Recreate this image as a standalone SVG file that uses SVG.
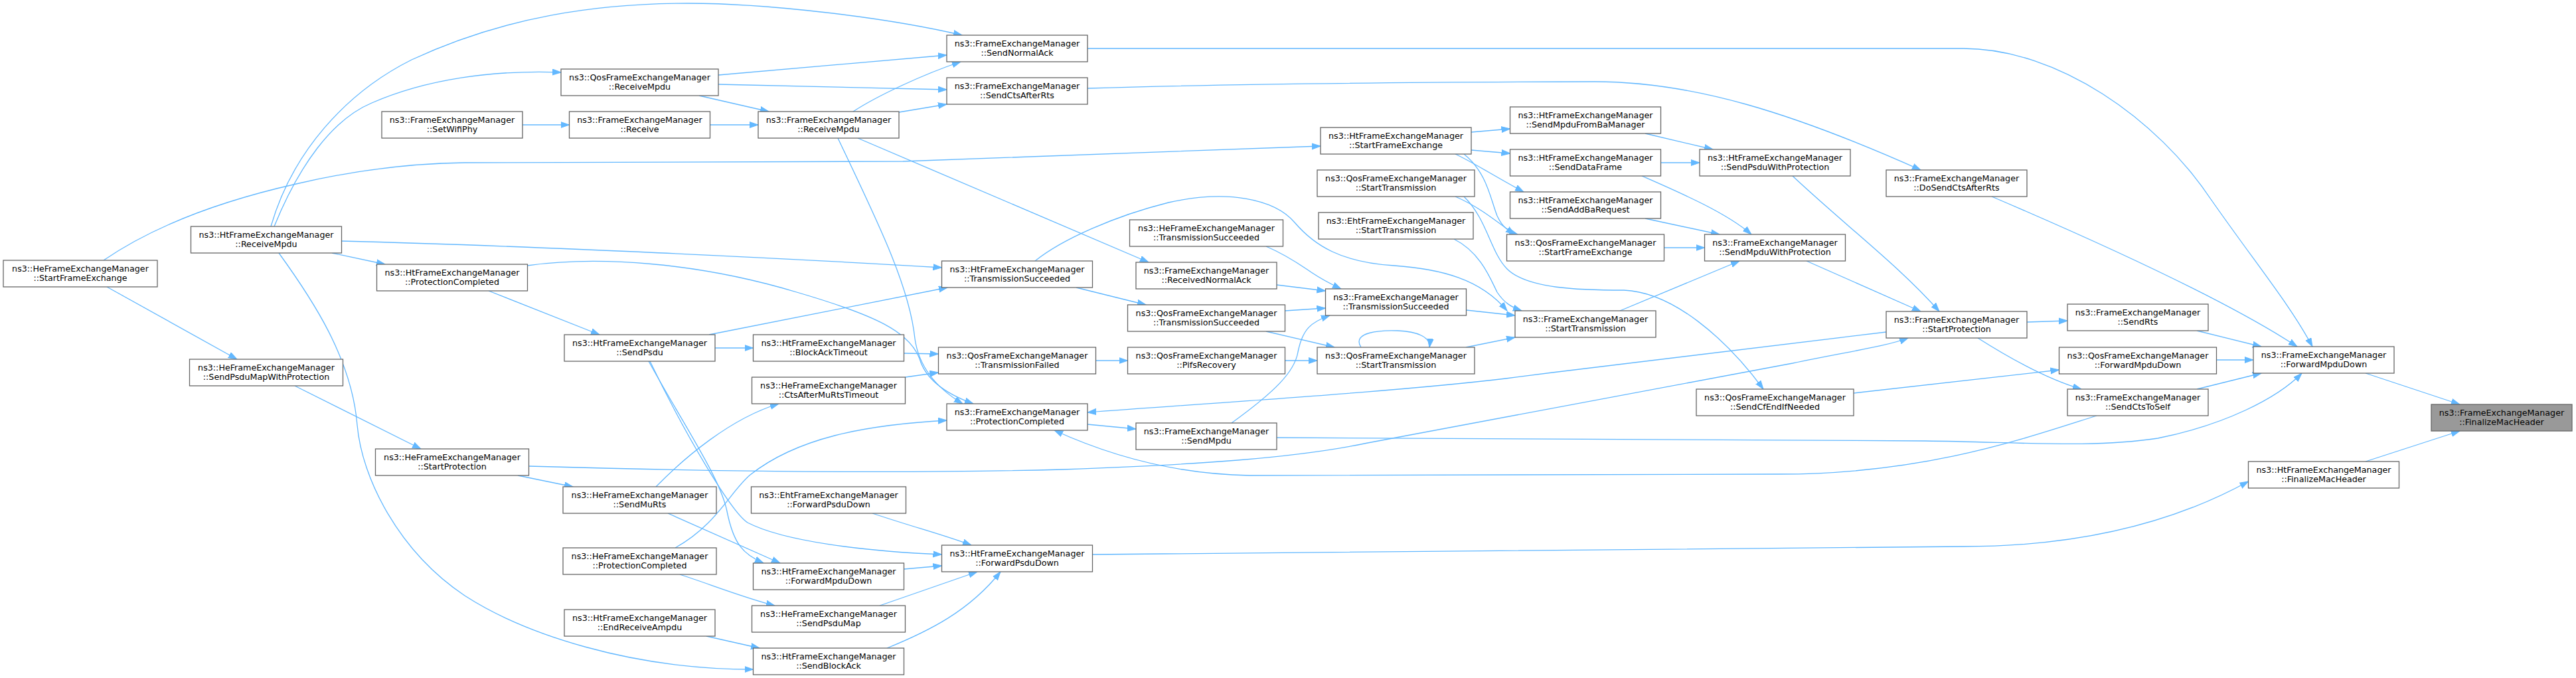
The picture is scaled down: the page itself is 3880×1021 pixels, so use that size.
<svg xmlns="http://www.w3.org/2000/svg" width="3880" height="1021" viewBox="0 0 3880 1021">
<style>
.nd rect{fill:#ffffff;stroke:#666666;stroke-width:1.3}
.root rect{fill:#999999;stroke:#666666;stroke-width:1.3}
.nd text,.root text{font-family:"DejaVu Sans","Liberation Sans",sans-serif;font-size:12.7px;fill:#000000;text-anchor:middle}
#connectors path{fill:none;stroke:#63b8ff;stroke-width:1.3}
</style>
<defs>
<marker id="arr" markerWidth="14" markerHeight="11" refX="13" refY="5" orient="auto" markerUnits="userSpaceOnUse">
<path d="M0,0.5 L13,5 L0,9.5 z" fill="#63b8ff" stroke="#63b8ff" stroke-width="1"/>
</marker>
</defs>
<rect width="3880" height="1021" fill="#ffffff"/>
<g id="connectors" marker-end="url(#arr)">
<path d="M156,392 C210,355 300,310 446,277 C540,255 620,246 700,245 L1360,243 L1989,220"/>
<path d="M161,432 L357,541"/>
<path d="M444,581 L634,676"/>
<path d="M408,341 C440,230 520,140 620,90 C760,25 900,5 1037,5 C1150,5 1330,25 1449,53"/>
<path d="M413,341 C450,250 500,180 560,155 C640,120 740,105 845,109"/>
<path d="M514.5,363 C800,370 1200,390 1418.5,403"/>
<path d="M500,381 L580,398"/>
<path d="M420,381 C470,450 530,540 538,640 C545,720 600,830 700,897 C790,955 950,1008 1134.5,1008"/>
<path d="M787,188 L857.5,188"/>
<path d="M1069.5,188 L1142,188"/>
<path d="M1053,144 L1158,168"/>
<path d="M1082,113 L1426,83"/>
<path d="M1082,127 L1426,135"/>
<path d="M1285,168 C1320,145 1390,112 1447,93"/>
<path d="M1354,169 L1426,157"/>
<path d="M1292,208 L1730,395"/>
<path d="M1262,208 C1320,330 1370,430 1378,510 C1385,560 1420,590 1450,608"/>
<path d="M794,400 C900,385 1050,395 1200,440 C1320,475 1370,500 1385,540 C1395,575 1430,595 1466,608"/>
<path d="M736,438 L903,504"/>
<path d="M1068,504 L1427,433"/>
<path d="M1077,524 L1134.5,524"/>
<path d="M1361.5,532 L1413.5,533"/>
<path d="M1363.5,568 L1413.5,561"/>
<path d="M977,544 C1030,640 1085,720 1095,770 C1105,820 1120,835 1150,848"/>
<path d="M979,544 C1030,650 1100,770 1126,787 C1180,815 1300,830 1418.5,835"/>
<path d="M780,716 L863,733"/>
<path d="M796.5,702 C1000,708 1300,715 1600,707 C1800,700 1950,690 2060,667 L2700,547 C2780,530 2840,522 2874,509"/>
<path d="M988,733 C1030,690 1100,630 1173,608"/>
<path d="M1006,773 L1175,848"/>
<path d="M1017,825 C1080,790 1100,740 1130,715 C1200,660 1300,640 1426,633"/>
<path d="M1024,865 C1070,880 1120,900 1167,912"/>
<path d="M1064,958 L1144,976"/>
<path d="M1314,773 C1380,795 1420,805 1463,821"/>
<path d="M1361.5,857 L1418.5,852"/>
<path d="M1325,912 L1472,861"/>
<path d="M1336,976 C1400,950 1460,920 1507,861"/>
<path d="M1650.5,543 L1698.5,543"/>
<path d="M1638,639 L1711,646"/>
<path d="M1638,73 L2957,73 C3100,73 3250,180 3330,300 C3400,400 3450,460 3483,522"/>
<path d="M1638,133 C1800,128 2000,124 2402,123 C2550,123 2700,170 2893,256"/>
<path d="M2216,199 L2274.5,194"/>
<path d="M2216,226 L2274.5,231"/>
<path d="M2192,232 C2220,245 2250,265 2295,289"/>
<path d="M2205,232 C2240,260 2245,300 2255,325 C2262,340 2270,348 2286,353"/>
<path d="M2192,296 C2225,310 2250,330 2281,353"/>
<path d="M2205,296 C2240,330 2245,380 2270,405 C2300,435 2380,437 2446,437 C2520,440 2600,510 2656,586"/>
<path d="M2190,360 C2230,380 2245,420 2255,440 C2265,455 2275,462 2292,468"/>
<path d="M1559,393 C1600,360 1680,325 1760,305 C1850,285 1920,300 1950,335 C1980,370 2020,395 2100,400 C2170,405 2230,420 2270,468"/>
<path d="M1907,371 C1940,385 1960,400 1975,410 C1990,420 2005,428 2020,435"/>
<path d="M1923,429 L1996.5,438"/>
<path d="M1935.5,468 L1996.5,464"/>
<path d="M1907,499 L2010,523"/>
<path d="M1935.5,543 L1984,543"/>
<path d="M1855,637 C1920,590 1950,560 1955,530 C1962,495 1975,485 2003,475"/>
<path d="M2208.5,467 L2282,475"/>
<path d="M2208,523 L2282,508"/>
<path d="M2050,523 C2035,500 2080,497 2105,498 C2135,499 2155,508 2153,523"/>
<path d="M1923,659 L2900,664 C3050,666 3150,675 3250,660 C3350,640 3430,600 3467,562"/>
<path d="M3158,626 C3050,660 2900,714 2680,714 L1882,716 C1780,714 1680,690 1588,648"/>
<path d="M2841,500 C2750,510 2500,540 2268,570 C2100,590 1850,605 1638,621"/>
<path d="M1645,835 L2957,823 C3100,823 3250,800 3386.5,725"/>
<path d="M1621,433 L1726,459"/>
<path d="M2478,201 L2580,225"/>
<path d="M2501.5,245 L2560,245"/>
<path d="M2473,265 C2530,290 2600,320 2638,353"/>
<path d="M2478,329 L2590,353"/>
<path d="M2506.5,373 L2567.5,373"/>
<path d="M2440,468 L2620,393"/>
<path d="M2700,265 C2780,340 2860,400 2921,469"/>
<path d="M2721,393 L2893,469"/>
<path d="M3053,485 L3114,483"/>
<path d="M2979,509 C3020,535 3080,570 3135,586"/>
<path d="M2792,592 L3101.5,557"/>
<path d="M3000,296 C3150,360 3350,450 3460,522"/>
<path d="M3309,498 L3406,522"/>
<path d="M3338.5,542 L3394,542"/>
<path d="M3309,586 L3406,562"/>
<path d="M3563,562 L3705,609"/>
<path d="M3563,695 L3705,649"/>
</g>
<g id="n1" class="nd"><rect x="5" y="392" width="232" height="40"/><text x="121" y="409">ns3::HeFrameExchangeManager</text><text x="121" y="423">::StartFrameExchange</text></g>
<g id="n2" class="nd"><rect x="287.5" y="341" width="227" height="40"/><text x="401" y="358">ns3::HtFrameExchangeManager</text><text x="401" y="372">::ReceiveMpdu</text></g>
<g id="n3" class="nd"><rect x="285.5" y="541" width="231" height="40"/><text x="401" y="558">ns3::HeFrameExchangeManager</text><text x="401" y="572">::SendPsduMapWithProtection</text></g>
<g id="n4" class="nd"><rect x="565.5" y="676" width="231" height="40"/><text x="681" y="693">ns3::HeFrameExchangeManager</text><text x="681" y="707">::StartProtection</text></g>
<g id="n5" class="nd"><rect x="575" y="168" width="212" height="40"/><text x="681" y="185">ns3::FrameExchangeManager</text><text x="681" y="199">::SetWifiPhy</text></g>
<g id="n6" class="nd"><rect x="567.5" y="398" width="227" height="40"/><text x="681" y="415">ns3::HtFrameExchangeManager</text><text x="681" y="429">::ProtectionCompleted</text></g>
<g id="n7" class="nd"><rect x="845" y="104" width="237" height="40"/><text x="963.5" y="121">ns3::QosFrameExchangeManager</text><text x="963.5" y="135">::ReceiveMpdu</text></g>
<g id="n8" class="nd"><rect x="857.5" y="168" width="212" height="40"/><text x="963.5" y="185">ns3::FrameExchangeManager</text><text x="963.5" y="199">::Receive</text></g>
<g id="n9" class="nd"><rect x="1142" y="168" width="212" height="40"/><text x="1248" y="185">ns3::FrameExchangeManager</text><text x="1248" y="199">::ReceiveMpdu</text></g>
<g id="n10" class="nd"><rect x="850" y="504" width="227" height="40"/><text x="963.5" y="521">ns3::HtFrameExchangeManager</text><text x="963.5" y="535">::SendPsdu</text></g>
<g id="n11" class="nd"><rect x="1134.5" y="504" width="227" height="40"/><text x="1248" y="521">ns3::HtFrameExchangeManager</text><text x="1248" y="535">::BlockAckTimeout</text></g>
<g id="n12" class="nd"><rect x="1132.5" y="568" width="231" height="40"/><text x="1248" y="585">ns3::HeFrameExchangeManager</text><text x="1248" y="599">::CtsAfterMuRtsTimeout</text></g>
<g id="n13" class="nd"><rect x="848" y="733" width="231" height="40"/><text x="963.5" y="750">ns3::HeFrameExchangeManager</text><text x="963.5" y="764">::SendMuRts</text></g>
<g id="n14" class="nd"><rect x="1131.5" y="733" width="233" height="40"/><text x="1248" y="750">ns3::EhtFrameExchangeManager</text><text x="1248" y="764">::ForwardPsduDown</text></g>
<g id="n15" class="nd"><rect x="848" y="825" width="231" height="40"/><text x="963.5" y="842">ns3::HeFrameExchangeManager</text><text x="963.5" y="856">::ProtectionCompleted</text></g>
<g id="n16" class="nd"><rect x="1134.5" y="848" width="227" height="40"/><text x="1248" y="865">ns3::HtFrameExchangeManager</text><text x="1248" y="879">::ForwardMpduDown</text></g>
<g id="n17" class="nd"><rect x="1132.5" y="912" width="231" height="40"/><text x="1248" y="929">ns3::HeFrameExchangeManager</text><text x="1248" y="943">::SendPsduMap</text></g>
<g id="n18" class="nd"><rect x="850" y="918" width="227" height="40"/><text x="963.5" y="935">ns3::HtFrameExchangeManager</text><text x="963.5" y="949">::EndReceiveAmpdu</text></g>
<g id="n19" class="nd"><rect x="1134.5" y="976" width="227" height="40"/><text x="1248" y="993">ns3::HtFrameExchangeManager</text><text x="1248" y="1007">::SendBlockAck</text></g>
<g id="n20" class="nd"><rect x="1426" y="53" width="212" height="40"/><text x="1532" y="70">ns3::FrameExchangeManager</text><text x="1532" y="84">::SendNormalAck</text></g>
<g id="n21" class="nd"><rect x="1426" y="117" width="212" height="40"/><text x="1532" y="134">ns3::FrameExchangeManager</text><text x="1532" y="148">::SendCtsAfterRts</text></g>
<g id="n22" class="nd"><rect x="1989" y="192" width="227" height="40"/><text x="2102.5" y="209">ns3::HtFrameExchangeManager</text><text x="2102.5" y="223">::StartFrameExchange</text></g>
<g id="n23" class="nd"><rect x="1984" y="256" width="237" height="40"/><text x="2102.5" y="273">ns3::QosFrameExchangeManager</text><text x="2102.5" y="287">::StartTransmission</text></g>
<g id="n24" class="nd"><rect x="1986" y="320" width="233" height="40"/><text x="2102.5" y="337">ns3::EhtFrameExchangeManager</text><text x="2102.5" y="351">::StartTransmission</text></g>
<g id="n25" class="nd"><rect x="1701.5" y="331" width="231" height="40"/><text x="1817" y="348">ns3::HeFrameExchangeManager</text><text x="1817" y="362">::TransmissionSucceeded</text></g>
<g id="n26" class="nd"><rect x="1418.5" y="393" width="227" height="40"/><text x="1532" y="410">ns3::HtFrameExchangeManager</text><text x="1532" y="424">::TransmissionSucceeded</text></g>
<g id="n27" class="nd"><rect x="1711" y="395" width="212" height="40"/><text x="1817" y="412">ns3::FrameExchangeManager</text><text x="1817" y="426">::ReceivedNormalAck</text></g>
<g id="n28" class="nd"><rect x="1698.5" y="459" width="237" height="40"/><text x="1817" y="476">ns3::QosFrameExchangeManager</text><text x="1817" y="490">::TransmissionSucceeded</text></g>
<g id="n29" class="nd"><rect x="1996.5" y="435" width="212" height="40"/><text x="2102.5" y="452">ns3::FrameExchangeManager</text><text x="2102.5" y="466">::TransmissionSucceeded</text></g>
<g id="n30" class="nd"><rect x="1984" y="523" width="237" height="40"/><text x="2102.5" y="540">ns3::QosFrameExchangeManager</text><text x="2102.5" y="554">::StartTransmission</text></g>
<g id="n31" class="nd"><rect x="1413.5" y="523" width="237" height="40"/><text x="1532" y="540">ns3::QosFrameExchangeManager</text><text x="1532" y="554">::TransmissionFailed</text></g>
<g id="n32" class="nd"><rect x="1698.5" y="523" width="237" height="40"/><text x="1817" y="540">ns3::QosFrameExchangeManager</text><text x="1817" y="554">::PifsRecovery</text></g>
<g id="n33" class="nd"><rect x="1426" y="608" width="212" height="40"/><text x="1532" y="625">ns3::FrameExchangeManager</text><text x="1532" y="639">::ProtectionCompleted</text></g>
<g id="n34" class="nd"><rect x="1711" y="637" width="212" height="40"/><text x="1817" y="654">ns3::FrameExchangeManager</text><text x="1817" y="668">::SendMpdu</text></g>
<g id="n35" class="nd"><rect x="1418.5" y="821" width="227" height="40"/><text x="1532" y="838">ns3::HtFrameExchangeManager</text><text x="1532" y="852">::ForwardPsduDown</text></g>
<g id="n36" class="nd"><rect x="2274.5" y="161" width="227" height="40"/><text x="2388" y="178">ns3::HtFrameExchangeManager</text><text x="2388" y="192">::SendMpduFromBaManager</text></g>
<g id="n37" class="nd"><rect x="2274.5" y="225" width="227" height="40"/><text x="2388" y="242">ns3::HtFrameExchangeManager</text><text x="2388" y="256">::SendDataFrame</text></g>
<g id="n38" class="nd"><rect x="2274.5" y="289" width="227" height="40"/><text x="2388" y="306">ns3::HtFrameExchangeManager</text><text x="2388" y="320">::SendAddBaRequest</text></g>
<g id="n39" class="nd"><rect x="2269.5" y="353" width="237" height="40"/><text x="2388" y="370">ns3::QosFrameExchangeManager</text><text x="2388" y="384">::StartFrameExchange</text></g>
<g id="n40" class="nd"><rect x="2282" y="468" width="212" height="40"/><text x="2388" y="485">ns3::FrameExchangeManager</text><text x="2388" y="499">::StartTransmission</text></g>
<g id="n41" class="nd"><rect x="2560" y="225" width="227" height="40"/><text x="2673.5" y="242">ns3::HtFrameExchangeManager</text><text x="2673.5" y="256">::SendPsduWithProtection</text></g>
<g id="n42" class="nd"><rect x="2567.5" y="353" width="212" height="40"/><text x="2673.5" y="370">ns3::FrameExchangeManager</text><text x="2673.5" y="384">::SendMpduWithProtection</text></g>
<g id="n43" class="nd"><rect x="2555" y="586" width="237" height="40"/><text x="2673.5" y="603">ns3::QosFrameExchangeManager</text><text x="2673.5" y="617">::SendCfEndIfNeeded</text></g>
<g id="n44" class="nd"><rect x="2841" y="256" width="212" height="40"/><text x="2947" y="273">ns3::FrameExchangeManager</text><text x="2947" y="287">::DoSendCtsAfterRts</text></g>
<g id="n45" class="nd"><rect x="2841" y="469" width="212" height="40"/><text x="2947" y="486">ns3::FrameExchangeManager</text><text x="2947" y="500">::StartProtection</text></g>
<g id="n46" class="nd"><rect x="3114" y="458" width="212" height="40"/><text x="3220" y="475">ns3::FrameExchangeManager</text><text x="3220" y="489">::SendRts</text></g>
<g id="n47" class="nd"><rect x="3101.5" y="523" width="237" height="40"/><text x="3220" y="540">ns3::QosFrameExchangeManager</text><text x="3220" y="554">::ForwardMpduDown</text></g>
<g id="n48" class="nd"><rect x="3114" y="586" width="212" height="40"/><text x="3220" y="603">ns3::FrameExchangeManager</text><text x="3220" y="617">::SendCtsToSelf</text></g>
<g id="n49" class="nd"><rect x="3394" y="522" width="212" height="40"/><text x="3500" y="539">ns3::FrameExchangeManager</text><text x="3500" y="553">::ForwardMpduDown</text></g>
<g id="n50" class="root"><rect x="3662" y="609" width="212" height="40"/><text x="3768" y="626">ns3::FrameExchangeManager</text><text x="3768" y="640">::FinalizeMacHeader</text></g>
<g id="n51" class="nd"><rect x="3386.5" y="695" width="227" height="40"/><text x="3500" y="712">ns3::HtFrameExchangeManager</text><text x="3500" y="726">::FinalizeMacHeader</text></g>
</svg>
